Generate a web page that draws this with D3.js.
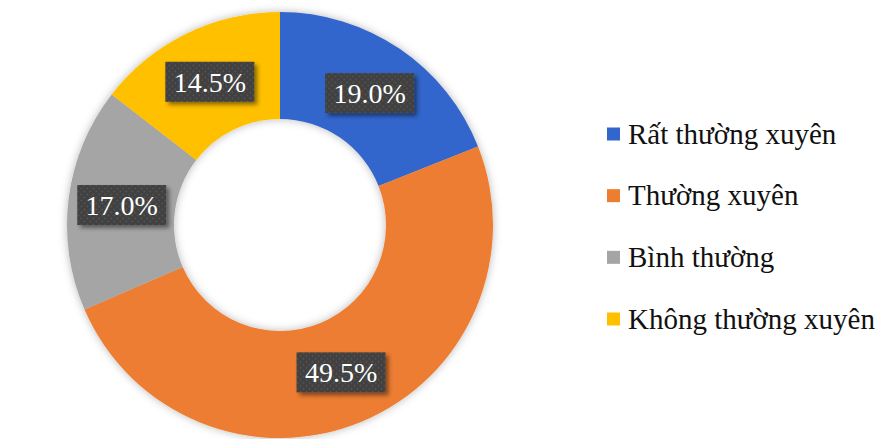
<!DOCTYPE html>
<html><head><meta charset="utf-8">
<script src="https://cdn.jsdelivr.net/npm/d3@7"></script>
<style>html,body{margin:0;padding:0;background:#fff;}svg{display:block;}</style>
</head><body>
<script>
const categories = ["Rất thường xuyên", "Thường xuyên", "Bình thường", "Không thường xuyên"];
const values = [19.0, 49.5, 17.0, 14.5];
const colors = ["#3366CC", "#ED7D31", "#A5A5A5", "#FFC000"];

const W = 880, H = 439;
const cx = 280, cy = 225, R = 213, r = 106;
const svg = d3.select("body").append("svg").attr("width", W).attr("height", H);
const defs = svg.append("defs");
const f = defs.append("filter").attr("id","ringShadow").attr("x","-20%").attr("y","-20%").attr("width","140%").attr("height","140%");
f.append("feDropShadow").attr("dx",0).attr("dy",0).attr("stdDeviation",4).attr("flood-color","#000").attr("flood-opacity",0.28);
const fb = defs.append("filter").attr("id","boxShadow").attr("x","-20%").attr("y","-30%").attr("width","150%").attr("height","170%");
fb.append("feDropShadow").attr("dx",3).attr("dy",3).attr("stdDeviation",2).attr("flood-color","#000").attr("flood-opacity",0.45);
const pat = defs.append("pattern").attr("id","dots").attr("width",6).attr("height",6).attr("patternUnits","userSpaceOnUse");
pat.append("rect").attr("width",6).attr("height",6).attr("fill","#404040");
pat.append("circle").attr("cx",1.5).attr("cy",1.5).attr("r",0.9).attr("fill","#565656");
pat.append("circle").attr("cx",4.5).attr("cy",4.5).attr("r",0.9).attr("fill","#565656");

const color = d3.scaleOrdinal().domain(categories).range(colors);
const pie = d3.pie().sort(null).value(d => d.v);
const data = categories.map((c,i)=>({c, v: values[i]}));
const arcs = pie(data);
const arc = d3.arc().innerRadius(r).outerRadius(R);
const g = svg.append("g").attr("transform",`translate(${cx},${cy})`);
g.append("g").attr("filter","url(#ringShadow)")
  .selectAll("path").data(arcs).join("path")
  .attr("d", arc).attr("fill", d => color(d.data.c));

const fmt = d3.format(".1f");
const lab = g.selectAll("g.lab").data(arcs).join("g").attr("class","lab")
  .attr("transform", d => `translate(${arc.centroid(d)})`);
const bw = 89, bh = 40;
lab.append("rect").attr("x",-bw/2).attr("y",-bh/2).attr("width",bw).attr("height",bh)
  .attr("fill","url(#dots)").attr("filter","url(#boxShadow)");
lab.append("text").attr("text-anchor","middle").attr("y",10)
  .attr("font-family","'Liberation Serif','Times New Roman',serif").attr("font-size",28)
  .attr("fill","#fff").text(d => fmt(d.data.v) + "%");

const leg = svg.append("g").attr("transform","translate(607,0)");
const ly = d3.scalePoint().domain(categories).range([134, 319]);
const li = leg.selectAll("g").data(categories).join("g").attr("transform", d => `translate(0,${ly(d)})`);
li.append("rect").attr("x",0).attr("y",-6.5).attr("width",13).attr("height",13).attr("fill", d => color(d));
li.append("text").attr("x",21).attr("y",9.5)
  .attr("font-family","'Liberation Serif','Times New Roman',serif").attr("font-size",29)
  .attr("fill","#111").text(d => d);
</script>
</body></html>
